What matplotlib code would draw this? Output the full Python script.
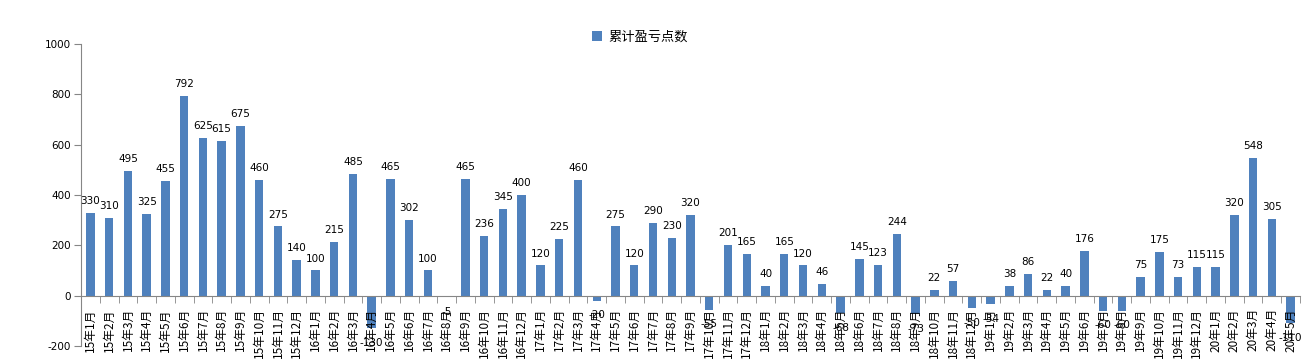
import matplotlib
matplotlib.use("Agg")
import matplotlib.pyplot as plt
import numpy as np

plt.rcParams['font.family'] = ['Noto Sans CJK SC', 'DejaVu Sans']

months = (
    [f"15年{m}月" for m in range(1, 13)] +
    [f"16年{m}月" for m in range(1, 13)] +
    [f"17年{m}月" for m in range(1, 13)] +
    [f"18年{m}月" for m in range(1, 13)] +
    [f"19年{m}月" for m in range(1, 13)] +
    [f"20年{m}月" for m in range(1, 6)]
)
values_15 = [330, 310, 495, 325, 455, 792, 625, 615, 675, 460, 275, 140]
values_16 = [100, 215, 485, -130, 465, 302, 100, -5, 465, 236, 345, 400]
values_17 = [120, 225, 460, -20, 275, 120, 290, 230, 320, -55, 201, 165]
values_18 = [40, 165, 120, 46, -68, 145, 123, 244, -73, 22, 57, -50]
values_19 = [-34, 38, 86, 22, 40, 176, -60, -60, 75, 175, 73, 115]
values_20 = [115, 320, 548, 305, -110]
values = values_15 + values_16 + values_17 + values_18 + values_19 + values_20
series_name = "累计盈亏点数"
yticks = [-200, 0, 200, 400, 600, 800, 1000]

fig = plt.figure(figsize=(13.04, 3.63), dpi=100)
ax = fig.add_axes([81 / 1304, 1 - 346 / 363, (1300 - 81) / 1304, (346 - 44) / 363])

x = np.arange(len(values))
bar_color = '#4F81BD'
ax.bar(x, values, width=0.45, color=bar_color, label=series_name, zorder=1)

ax.set_xlim(-0.5, len(values) - 0.5)
ax.set_ylim(-200, 1000)
ax.set_yticks(yticks)
ax.set_yticklabels([str(v) for v in yticks], family='DejaVu Sans', fontsize=7.5)

axis_color = '#868686'
for s in ['top', 'right']:
    ax.spines[s].set_visible(False)
ax.spines['left'].set_color(axis_color)
ax.spines['bottom'].set_color(axis_color)
ax.spines['bottom'].set_position(('data', 0))
ax.spines['bottom'].set_zorder(2)

ax.tick_params(axis='y', length=5, color=axis_color, pad=2)
ax.set_xticks(x)
ax.set_xticklabels(months, rotation=90, fontsize=8.5, va='top')
ax.set_xticks(np.arange(-0.5, len(values), 1), minor=True)
ax.tick_params(axis='x', which='major', length=0, pad=9)
ax.tick_params(axis='x', which='minor', length=5, color=axis_color)

for xi, v in zip(x, values):
    if v >= 0:
        ax.annotate(str(v), (xi, v), xytext=(0, 5), textcoords='offset points',
                    ha='center', va='bottom', fontsize=7.5, family='DejaVu Sans', zorder=3)
    else:
        ax.annotate(str(v), (xi, v), xytext=(0, -7), textcoords='offset points',
                    ha='center', va='top', fontsize=7.5, family='DejaVu Sans', zorder=3)

fig.legend(loc='center', bbox_to_anchor=(640 / 1304, 1 - 37 / 363), frameon=False,
           fontsize=9.5, handlelength=0.7, handleheight=0.7, handletextpad=0.5)

fig.savefig('out.png', dpi=100)
